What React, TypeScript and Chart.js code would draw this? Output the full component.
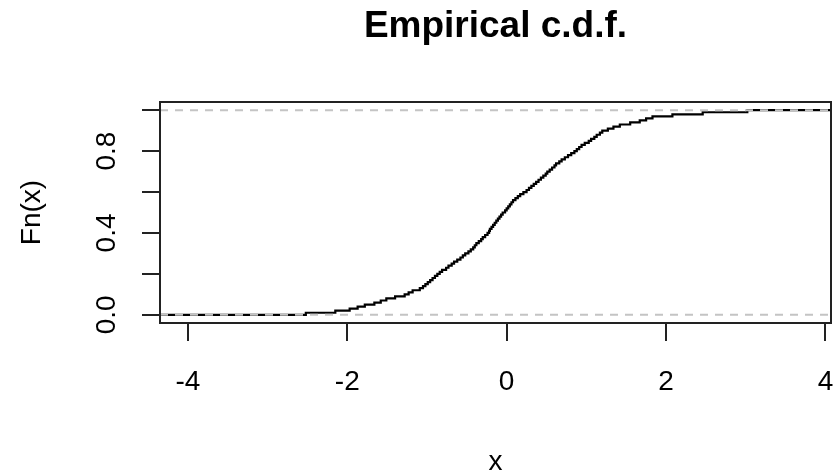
import React, { useEffect, useRef } from 'react';
import { Chart, registerables } from 'chart.js';

Chart.register(...registerables);

// Sorted sample values (knots of the empirical c.d.f.)
const sampleX = [
  -2.52, -2.15, -1.97, -1.87, -1.78, -1.66, -1.58, -1.51, -1.40, -1.28,
  -1.23, -1.18, -1.09, -1.05, -1.02, -0.99, -0.96, -0.93, -0.90, -0.87,
  -0.84, -0.81, -0.76, -0.73, -0.69, -0.66, -0.62, -0.58, -0.55, -0.52,
  -0.48, -0.45, -0.42, -0.40, -0.38, -0.35, -0.32, -0.30, -0.27, -0.24,
  -0.22, -0.21, -0.19, -0.17, -0.15, -0.13, -0.11, -0.09, -0.07, -0.05,
  -0.02, 0.00, 0.02, 0.04, 0.06, 0.08, 0.11, 0.14, 0.17, 0.21,
  0.25, 0.28, 0.31, 0.34, 0.37, 0.40, 0.43, 0.46, 0.49, 0.51,
  0.54, 0.57, 0.60, 0.62, 0.66, 0.69, 0.73, 0.77, 0.81, 0.85,
  0.88, 0.91, 0.94, 0.98, 1.03, 1.06, 1.10, 1.13, 1.17, 1.20,
  1.27, 1.34, 1.42, 1.55, 1.67, 1.75, 1.83, 2.08, 2.46, 3.02,
];

const xMin = -4.35;
const xMax = 4.07;
const yMin = -0.04;
const yMax = 1.04;
const xTicks = [-4, -2, 0, 2, 4];
const yTicks = [0, 0.2, 0.4, 0.6, 0.8, 1];
const yLabelTicks = [0, 0.4, 0.8];
const refLines = [0, 1];

const FONT = "'Liberation Sans', Arial, sans-serif";

const boxPlugin = {
  id: 'plotBox',
  afterDraw(chart: any) {
    const { ctx, chartArea: a } = chart;
    ctx.save();
    ctx.strokeStyle = '#222';
    ctx.lineWidth = 2;
    ctx.strokeRect(a.left, a.top, a.right - a.left, a.bottom - a.top);
    ctx.restore();
  },
};

export default function App() {
  const ref = useRef<HTMLCanvasElement | null>(null);

  useEffect(() => {
    document.body.style.margin = '0';
    const n = sampleX.length;
    const ecdfPoints = [
      { x: xMin, y: 0 },
      ...sampleX.map((x, i) => ({ x, y: (i + 1) / n })),
      { x: xMax, y: 1 },
    ];
    const refDatasets = refLines.map((v) => ({
      label: 'ref' + v,
      data: [
        { x: xMin, y: v },
        { x: xMax, y: v },
      ],
      borderColor: '#c4c4c4',
      borderWidth: 2,
      borderDash: [8, 7],
      pointRadius: 0,
      fill: false,
      order: 0,
    }));

    const chart = new Chart(ref.current as HTMLCanvasElement, {
      type: 'line',
      data: {
        datasets: [
          {
            label: 'Fn',
            data: ecdfPoints,
            stepped: true,
            borderColor: '#000',
            borderWidth: 2.2,
            pointRadius: 0,
            fill: false,
            order: 1,
          },
          ...refDatasets,
        ] as any,
      },
      options: {
        animation: false,
        responsive: false,
        devicePixelRatio: 1,
        layout: { padding: { left: 0, right: 2, top: 0, bottom: 0 } },
        plugins: {
          legend: { display: false },
          tooltip: { enabled: false },
          title: {
            display: true,
            text: 'Empirical c.d.f.',
            color: '#000',
            fullSize: false,
            font: { family: FONT, size: 37, weight: 'bold', lineHeight: 1.2 },
            padding: { top: 5, bottom: 52.6 },
          },
        },
        scales: {
          x: {
            type: 'linear',
            min: xMin,
            max: xMax,
            afterBuildTicks: (s: any) => {
              s.ticks = xTicks.map((v) => ({ value: v }));
            },
            afterFit: (s: any) => {
              s.height = 152;
              s.paddingLeft = 0;
              s.paddingRight = 0;
            },
            ticks: {
              autoSkip: false,
              maxRotation: 0,
              minRotation: 0,
              padding: 24,
              color: '#000',
              font: { family: FONT, size: 28 },
              callback: (v: any) => String(v),
            },
            grid: {
              display: true,
              drawOnChartArea: false,
              drawTicks: true,
              tickLength: 18,
              color: '#222',
              lineWidth: 2,
            },
            border: { display: false },
            title: {
              display: true,
              text: 'x',
              color: '#000',
              font: { family: FONT, size: 28, lineHeight: 0.9 },
              padding: { top: 0, bottom: 0 },
            },
          },
          y: {
            type: 'linear',
            min: yMin,
            max: yMax,
            afterBuildTicks: (s: any) => {
              s.ticks = yTicks.map((v) => ({ value: v }));
            },
            afterFit: (s: any) => {
              s.width = 160;
              s.paddingTop = 0;
              s.paddingBottom = 0;
            },
            ticks: {
              autoSkip: false,
              minRotation: 90,
              maxRotation: 90,
              crossAlign: 'center',
              padding: 15,
              color: '#000',
              font: { family: FONT, size: 28 },
              callback: (v: any) => (yLabelTicks.includes(v) ? Number(v).toFixed(1) : ''),
            },
            grid: {
              display: true,
              drawOnChartArea: false,
              drawTicks: true,
              tickLength: 18,
              color: '#222',
              lineWidth: 2,
            },
            border: { display: false },
            title: {
              display: true,
              text: 'Fn(x)',
              color: '#000',
              font: { family: FONT, size: 28, lineHeight: 1.2 },
              padding: { top: 15, bottom: 0 },
            },
          },
        },
      } as any,
      plugins: [boxPlugin],
    });
    return () => chart.destroy();
  }, []);

  return <canvas ref={ref} width={833} height={475} style={{ display: 'block' }} />;
}
